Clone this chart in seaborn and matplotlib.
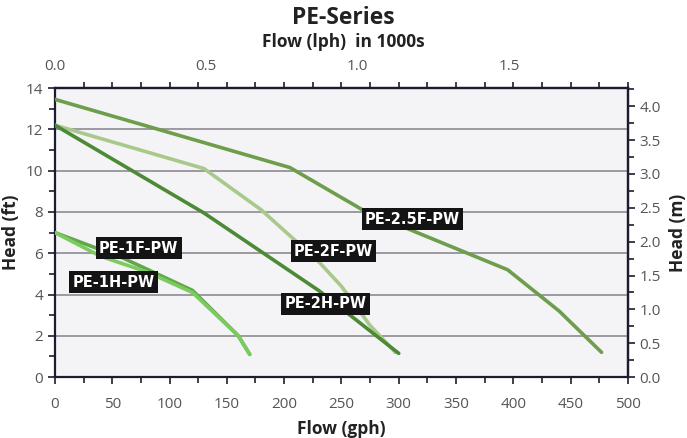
import matplotlib
matplotlib.use("Agg")
import matplotlib.pyplot as plt
from matplotlib.ticker import MultipleLocator, FixedLocator
import seaborn as sns
import pandas as pd

# Curvas das bombas (vazão em gph, altura em ft)
pe25f_gph = [0, 205, 270, 395, 440, 477]
pe25f_ft = [13.45, 10.15, 8.05, 5.2, 3.2, 1.2]

pe2f_gph = [0, 130, 180, 230, 250, 275, 297]
pe2f_ft = [12.2, 10.1, 8.1, 5.6, 4.4, 2.5, 1.2]

pe2h_gph = [0, 130, 230, 300]
pe2h_ft = [12.2, 7.95, 4.2, 1.15]

pe1f_gph = [0, 60, 120, 160, 170]
pe1f_ft = [7.0, 5.75, 4.2, 2.0, 1.1]

pe1h_gph = [0, 40, 80, 120, 160, 170]
pe1h_ft = [7.0, 5.85, 5.1, 4.1, 2.0, 1.1]

modelos = ["PE-2.5F-PW", "PE-2F-PW", "PE-2H-PW", "PE-1F-PW", "PE-1H-PW"]
cores = ["#6e9d4c", "#a9c98b", "#4c8a36", "#62a84a", "#7bcb5e"]

# Posições dos rótulos (gph, ft)
rotulo_gph = [312, 243, 236, 73, 51]
rotulo_ft = [7.65, 6.1, 3.55, 6.25, 4.6]

# Montando o dataframe longo para o seaborn
dados = []
for nome, xs, ys in zip(modelos,
                        [pe25f_gph, pe2f_gph, pe2h_gph, pe1f_gph, pe1h_gph],
                        [pe25f_ft, pe2f_ft, pe2h_ft, pe1f_ft, pe1h_ft]):
    for x, y in zip(xs, ys):
        dados.append({"modelo": nome, "gph": x, "ft": y})
df = pd.DataFrame(dados)

sns.set_style("ticks")
plt.rcParams['font.family'] = ['Open Sans', 'DejaVu Sans']

fig = plt.figure(figsize=(6.87, 4.38), dpi=100)
ax = fig.add_axes([0.080, 0.139, 0.834, 0.660])
ax.set_facecolor("#f4f3f6")

# Linhas de grade horizontais
for g in range(2, 14, 2):
    ax.axhline(g, color="#8f8a94", lw=1.2, zorder=1)

sns.lineplot(data=df, x="gph", y="ft", hue="modelo", palette=dict(zip(modelos, cores)),
             sort=False, estimator=None, lw=2.6, legend=False, ax=ax, zorder=3,
             solid_capstyle="round")

# Rótulos pretos com texto branco
for nome, x, y in zip(modelos, rotulo_gph, rotulo_ft):
    ax.text(x, y, nome, ha="center", va="center", color="white", fontsize=10.5,
            fontweight="bold", family="DejaVu Sans", zorder=5,
            bbox=dict(boxstyle="square,pad=0.22", fc="#141414", ec="none"))

ax.set_xlim(0, 500)
ax.set_ylim(0, 14)
ax.xaxis.set_major_locator(MultipleLocator(50))
ax.xaxis.set_minor_locator(MultipleLocator(25))
ax.yaxis.set_major_locator(MultipleLocator(2))
ax.yaxis.set_minor_locator(MultipleLocator(1))
ax.tick_params(which="both", direction="out", color="#1c1c30", width=1.2, labelcolor="#555555",
               labelsize=11)
ax.tick_params(which="major", length=5)
ax.tick_params(which="minor", length=4)
ax.tick_params(axis="x", pad=9)
for s in ax.spines.values():
    s.set_color("#1c1c30")
    s.set_linewidth(1.6)

ax.set_xlabel("Flow (gph)", fontsize=12.5, fontweight="bold", color="#222222", labelpad=6)
ax.set_ylabel("Head (ft)", fontsize=12.5, fontweight="bold", color="#222222", labelpad=4)

# Eixo direito em metros
axm = ax.secondary_yaxis("right", functions=(lambda f: f * 0.3048, lambda m: m / 0.3048))
axm.yaxis.set_major_locator(MultipleLocator(0.5))
axm.yaxis.set_minor_locator(MultipleLocator(0.25))
axm.yaxis.set_major_formatter(matplotlib.ticker.FormatStrFormatter("%.1f"))
axm.tick_params(which="both", direction="out", color="#1c1c30", width=1.2, labelcolor="#555555",
                labelsize=11)
axm.tick_params(which="major", length=5)
axm.tick_params(which="minor", length=4)
axm.spines["right"].set_color("#1c1c30")
axm.spines["right"].set_linewidth(1.6)
axm.set_ylabel("Head (m)", fontsize=12.5, fontweight="bold", color="#222222", labelpad=6)

# Eixo superior em milhares de lph
lph = 3.78541 / 1000
axt = ax.secondary_xaxis("top", functions=(lambda g: g * lph, lambda l: l / lph))
axt.xaxis.set_major_locator(FixedLocator([0.0, 0.5, 1.0, 1.5]))
axt.xaxis.set_major_formatter(matplotlib.ticker.FormatStrFormatter("%.1f"))
axt.xaxis.set_minor_locator(FixedLocator([g * lph for g in range(0, 501, 25)]))
axt.tick_params(which="major", length=0, pad=10, labelcolor="#555555", labelsize=11)
axt.tick_params(which="minor", direction="out", length=4, width=1.2, color="#1c1c30")
axt.spines["top"].set_color("#1c1c30")
axt.spines["top"].set_linewidth(1.6)

fig.text(0.5, 0.958, "PE-Series", ha="center", va="center", fontsize=16.5, fontweight="bold",
         color="#222222")
fig.text(0.5, 0.905, "Flow (lph)  in 1000s", ha="center", va="center", fontsize=12.5,
         fontweight="bold", color="#222222")

fig.savefig("out.png", dpi=100, facecolor="white")
